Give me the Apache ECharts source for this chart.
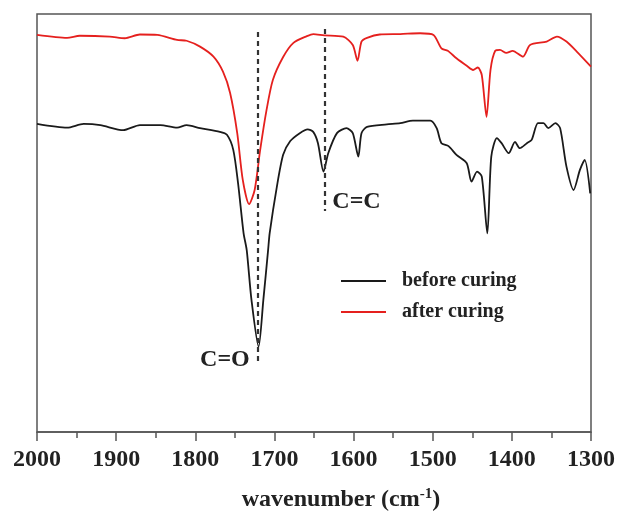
<!DOCTYPE html>
<html>
<head>
<meta charset="utf-8">
<script src="https://cdn.jsdelivr.net/npm/echarts@6/dist/echarts.min.js"></script>
<style>html,body{margin:0;padding:0;background:#fff}#c{width:623px;height:513px}</style>
</head>
<body>
<div id="c"></div>
<script>
// wavenumber (cm-1) and relative transmittance
const beforeWave = [2000,1962,1941,1920,1891,1870,1844,1823,1811,1794,1769,1760,1752,1746,1739,1735,1729,1720,1714,1708,1706,1697,1689,1680,1668,1658,1651,1645,1638,1632,1621,1609,1601,1594,1590,1583,1558,1541,1525,1503,1495,1489,1480,1470,1457,1451,1444,1438,1431,1426,1419,1413,1404,1396,1390,1381,1375,1367,1360,1354,1345,1339,1331,1322,1314,1308,1301];
const beforeVal  = [73.7,72.8,73.7,73.4,72.2,73.4,73.4,72.8,73.4,72.7,71.8,71.1,67.5,59.6,47.6,43.5,31.6,20.4,31.6,43.5,47.6,58.6,66.3,69.6,71.5,72.4,71.8,69.1,62.3,66.7,71.5,72.7,71.5,65.9,71.5,73.0,73.6,73.9,74.5,74.5,72.7,69.1,68.4,66.3,64.3,59.9,62.3,61.1,47.5,65.9,70.3,69.1,66.7,69.4,67.9,69.1,69.9,73.9,73.9,72.7,73.9,72.7,63.5,57.9,62.7,65.1,57.1];
const afterWave = [2000,1962,1946,1908,1889,1870,1848,1823,1811,1794,1777,1765,1756,1747,1740,1732,1725,1718,1710,1702,1689,1676,1659,1651,1637,1613,1601,1595,1590,1583,1567,1541,1516,1499,1489,1481,1470,1457,1449,1443,1438,1432,1427,1421,1415,1407,1399,1386,1377,1356,1343,1331,1318,1300];
const afterVal  = [95.0,94.3,94.8,94.6,94.2,95.1,95.0,93.8,93.6,92.2,89.8,86.2,81.1,71.5,60.3,54.5,57.9,67.5,77.0,84.2,89.7,93.1,94.7,95.2,94.9,94.6,92.6,88.8,93.4,94.3,95.1,95.2,95.4,95.0,91.8,91.2,89.4,87.6,86.6,87.2,85.4,75.4,86.6,91.2,91.4,90.7,91.2,89.8,92.6,93.4,94.6,93.4,91.0,87.4];
const seriesNames = ['before curing','after curing'];
// peak markers: [wavenumber, lineTop, lineBottom, labelY]
const coPeak = {label:'C=O', wave:1721, top:95.7, bottom:16.0, labelY:17.2};
const ccPeak = {label:'C=C', wave:1637, top:96.4, bottom:52.9, labelY:55.0};

const zip = (a,b)=>a.map((x,i)=>[x,b[i]]);
const serif = 'Liberation Serif, Times New Roman, serif';
const chart = echarts.init(document.getElementById('c'));
function peakLine(p){ return [{coord:[p.wave,p.top]},{coord:[p.wave,p.bottom]}]; }
chart.setOption({
  animation:false,
  grid:{left:37,right:32,top:14,bottom:81,show:true,borderColor:'#555',borderWidth:1.5,backgroundColor:'transparent',outerBoundsMode:'none',containLabel:false},
  legend:{
    orient:'vertical', left:336, top:266, itemWidth:45, itemHeight:2, icon:'rect', itemGap:11,
    textStyle:{fontFamily:serif,fontWeight:'bold',fontSize:20,color:'#222',padding:[0,0,0,11]},
    data:seriesNames
  },
  xAxis:{
    type:'value', inverse:true, min:1300, max:2000, interval:100,
    axisLine:{lineStyle:{color:'#555',width:1.5}},
    axisTick:{show:true,inside:false,length:9,lineStyle:{color:'#555',width:1.5}},
    minorTick:{show:true,splitNumber:2,length:6,lineStyle:{color:'#555',width:1.5}},
    splitLine:{show:false},
    axisLabel:{fontFamily:serif,fontWeight:'bold',fontSize:24,color:'#222',margin:16,formatter:v=>String(v)},
    name:'wavenumber (cm{sup|-1})', nameLocation:'middle', nameGap:55,
    nameTextStyle:{fontFamily:serif,fontWeight:'bold',fontSize:24,color:'#222',padding:[0,0,0,54],
      rich:{sup:{fontFamily:serif,fontWeight:'bold',fontSize:15,color:'#222',verticalAlign:'top',padding:[0,0,10,0]}}}
  },
  yAxis:{type:'value',min:0,max:100,show:false},
  series:[
    {name:seriesNames[0],type:'line',data:zip(beforeWave,beforeVal),symbol:'none',smooth:0.25,
     lineStyle:{color:'#1a1a1a',width:1.8},itemStyle:{color:'#1a1a1a'},
     markLine:{silent:true,symbol:'none',label:{show:false},lineStyle:{color:'#333',type:[5,4],width:2.2},
       data:[peakLine(coPeak),peakLine(ccPeak)]},
     markPoint:{silent:true,symbol:'circle',symbolSize:0.1,itemStyle:{color:'transparent'},
       label:{fontFamily:serif,fontWeight:'bold',fontSize:24,color:'#222'},
       data:[
         {coord:[coPeak.wave,coPeak.labelY],label:{show:true,formatter:coPeak.label,position:'left',distance:8}},
         {coord:[ccPeak.wave,ccPeak.labelY],label:{show:true,formatter:ccPeak.label,position:'right',distance:8}}
       ]}
    },
    {name:seriesNames[1],type:'line',data:zip(afterWave,afterVal),symbol:'none',smooth:0.25,
     lineStyle:{color:'#e5201e',width:1.8},itemStyle:{color:'#e5201e'}}
  ]
});
</script>
</body>
</html>
